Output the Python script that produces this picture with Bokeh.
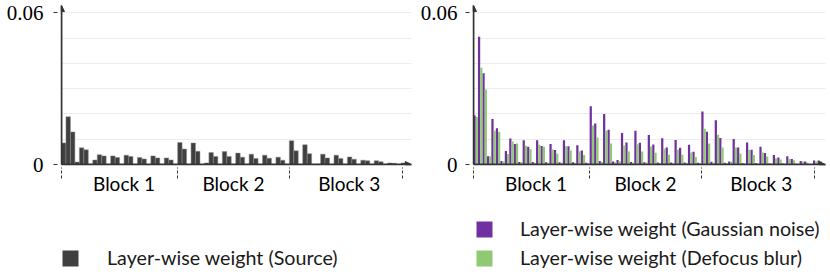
from bokeh.plotting import figure
from bokeh.models import Range1d, FixedTicker, Arrow, NormalHead, Legend, LegendItem
from bokeh.layouts import row, column
from bokeh.embed import file_html
from bokeh.resources import INLINE

# ---------------- data ----------------
block_names = ["Block 1", "Block 2", "Block 3"]
block_label_pos = [14.0, 38.5, 64.4]
block_bounds = [0, 26, 51, 76.4]
y_ticks = [0, 0.06]
y_tick_labels = ["0", "0.06"]
grid_levels = [0.01, 0.02, 0.03, 0.04, 0.05, 0.06]

source_w = [
    0.0085, 0.0189, 0.0129, 0.0010, 0.0066, 0.0058, 0.0002, 0.0018, 0.0039, 0.0034,
    0.0001, 0.0034, 0.0028, 0.0001, 0.0037, 0.0032, 0.0001, 0.0028, 0.0022, 0.0001,
    0.0034, 0.0026, 0.0001, 0.0026, 0.0018, 0.0001,
    0.0087, 0.0061, 0.0001, 0.0085, 0.0052, 0.0001, 0.0006, 0.0047, 0.0032, 0.0001,
    0.0051, 0.0032, 0.0001, 0.0045, 0.0029, 0.0001, 0.0041, 0.0024, 0.0001, 0.0037,
    0.0025, 0.0001, 0.0029, 0.0017, 0.0001,
    0.0094, 0.0054, 0.0001, 0.0078, 0.0043, 0.0001, 0.0002, 0.0041, 0.0026, 0.0001,
    0.0037, 0.0024, 0.0001, 0.0030, 0.0021, 0.0001, 0.0017, 0.0015, 0.0001, 0.0015,
    0.0011, 0.0001, 0.0006, 0.0005, 0.0001, 0.0006, 0.0006,
]

gauss_w = [
    0.0194, 0.0505, 0.0361, 0.0033, 0.0180, 0.0143, 0.0014, 0.0053, 0.0103, 0.0081,
    0.0010, 0.0096, 0.0070, 0.0010, 0.0096, 0.0073, 0.0009, 0.0081, 0.0057, 0.0009,
    0.0096, 0.0072, 0.0009, 0.0076, 0.0055, 0.0007,
    0.0230, 0.0162, 0.0014, 0.0200, 0.0137, 0.0012, 0.0018, 0.0125, 0.0087, 0.0010,
    0.0133, 0.0086, 0.0009, 0.0117, 0.0079, 0.0008, 0.0104, 0.0067, 0.0008, 0.0097,
    0.0066, 0.0008, 0.0078, 0.0050, 0.0007,
    0.0210, 0.0130, 0.0011, 0.0175, 0.0105, 0.0007, 0.0012, 0.0101, 0.0067, 0.0005,
    0.0087, 0.0058, 0.0005, 0.0070, 0.0045, 0.0004, 0.0038, 0.0028, 0.0004, 0.0033,
    0.0022, 0.0003, 0.0014, 0.0012, 0.0002, 0.0016, 0.0016,
]

defocus_w = [
    0.0188, 0.0383, 0.0297, 0.0033, 0.0133, 0.0129, 0.0012, 0.0042, 0.0091, 0.0083,
    0.0010, 0.0074, 0.0061, 0.0007, 0.0078, 0.0070, 0.0007, 0.0059, 0.0043, 0.0007,
    0.0072, 0.0055, 0.0007, 0.0052, 0.0038, 0.0005,
    0.0154, 0.0107, 0.0010, 0.0133, 0.0083, 0.0009, 0.0013, 0.0075, 0.0051, 0.0007,
    0.0080, 0.0051, 0.0007, 0.0071, 0.0046, 0.0006, 0.0062, 0.0039, 0.0006, 0.0058,
    0.0039, 0.0006, 0.0047, 0.0030, 0.0005,
    0.0141, 0.0083, 0.0007, 0.0118, 0.0067, 0.0005, 0.0011, 0.0067, 0.0043, 0.0004,
    0.0058, 0.0038, 0.0004, 0.0047, 0.0032, 0.0003, 0.0025, 0.0020, 0.0003, 0.0022,
    0.0017, 0.0002, 0.0012, 0.0008, 0.0001, 0.0012, 0.0013,
]

legend_source = "Layer-wise weight (Source)"
legend_gauss = "Layer-wise weight (Gaussian noise)"
legend_defocus = "Layer-wise weight (Defocus blur)"

# ---------------- styling ----------------
AX = "#333333"
Y_END = 0.06289
UNIT_PX = 4.467
TEXT_FONT = "Lato"
NUM_FONT = "Liberation Serif"
C_SRC = "#404040"
C_GAUSS = "#7030a0"
C_DEFOCUS = "#8fc971"
PLOT_H = 210
LEG_H = 65


def make_fig(width, bl, br, standoff):
    frame_w = width - bl - br
    x_end = frame_w / UNIT_PX
    p = figure(width=width, height=PLOT_H, x_range=Range1d(0, x_end), y_range=Range1d(0, Y_END),
               output_backend="svg", toolbar_location=None,
               min_border_left=bl, min_border_right=br, min_border_top=5,
               min_border_bottom=PLOT_H - 164)
    p.outline_line_color = None
    p.xgrid.visible = False
    p.ygrid.ticker = FixedTicker(ticks=grid_levels)
    p.ygrid.grid_line_color = "#ececec"
    p.ygrid.grid_line_width = 1

    ya = p.yaxis[0]
    ya.ticker = FixedTicker(ticks=y_ticks)
    ya.major_label_overrides = {t: s for t, s in zip(y_ticks, y_tick_labels)}
    ya.major_label_text_font = NUM_FONT
    ya.major_label_text_font_size = "21px"
    ya.major_label_text_color = "#000000"
    ya.major_label_standoff = standoff
    ya.major_tick_in = -4
    ya.major_tick_out = 8
    ya.major_tick_line_color = AX
    ya.minor_tick_line_color = None
    ya.axis_line_color = AX
    ya.axis_line_width = 1.5

    xa = p.xaxis[0]
    xa.ticker = FixedTicker(ticks=block_label_pos, minor_ticks=block_bounds)
    xa.major_label_overrides = {t: s for t, s in zip(block_label_pos, block_names)}
    xa.major_label_text_font = TEXT_FONT
    xa.major_label_text_font_size = "19px"
    xa.major_label_text_color = "#000000"
    xa.major_label_standoff = -7
    xa.major_tick_in = 0
    xa.major_tick_out = 0
    xa.major_tick_line_color = None
    xa.minor_tick_in = -3
    xa.minor_tick_out = 14
    xa.minor_tick_line_color = AX
    xa.minor_tick_line_dash = "3 2"
    xa.axis_line_color = AX
    xa.axis_line_width = 1.5

    p.add_layout(Arrow(end=NormalHead(size=6, fill_color=AX, line_color=AX),
                       x_start=0, y_start=0, x_end=0, y_end=Y_END,
                       line_color=AX, line_width=1.5))
    p.add_layout(Arrow(end=NormalHead(size=6, fill_color=AX, line_color=AX),
                       x_start=0, y_start=0, x_end=x_end - 0.05, y_end=0,
                       line_color=AX, line_width=1.5))
    return p


def make_legend_fig(width, items, loc, standoff):
    # a figure that only carries the legend; its swatch renderers sit outside the visible range
    q = figure(width=width, height=LEG_H, x_range=Range1d(0, 1), y_range=Range1d(0, 1),
               output_backend="svg", toolbar_location=None,
               min_border_left=0, min_border_right=0, min_border_top=0, min_border_bottom=0)
    q.axis.visible = False
    q.grid.visible = False
    q.outline_line_color = None
    leg_items = []
    for label, color in items:
        r = q.vbar(x=[-5], top=[-4], bottom=[-5], width=0.1, fill_color=color, line_color=None)
        leg_items.append(LegendItem(label=label, renderers=[r]))
    leg = Legend(items=leg_items, location=loc, orientation="vertical",
                 padding=0, margin=0, spacing=6, glyph_width=20, glyph_height=20,
                 label_standoff=standoff, label_height=20,
                 label_text_font=TEXT_FONT, label_text_font_size="19.7px",
                 label_text_color="#1a1a1a",
                 border_line_color=None, background_fill_alpha=0)
    q.add_layout(leg)
    return q


idx = list(range(len(source_w)))

# left panel
p1 = make_fig(415, 61, 4, 10)
p1.vbar(x=[i + 0.5 for i in idx], width=1.0, top=source_w, bottom=0,
        fill_color=C_SRC, line_color="#8c8c8c", line_width=0.5)

# right panel
p2 = make_fig(415, 58, 5, 8)
p2.vbar(x=[i + 0.25 for i in idx], width=0.5, top=gauss_w, bottom=0,
        fill_color=C_GAUSS, line_color=None)
p2.vbar(x=[i + 0.75 for i in idx], width=0.5, top=defocus_w, bottom=0,
        fill_color=C_DEFOCUS, line_color=None)

l1 = make_legend_fig(415, [(legend_source, C_SRC)], (60, 6), 27)
l2 = make_legend_fig(415, [(legend_gauss, C_GAUSS), (legend_defocus, C_DEFOCUS)], (59, 6), 26)

layout = column(row(p1, p2), row(l1, l2))
open("out.html", "w").write(file_html(layout, INLINE))
